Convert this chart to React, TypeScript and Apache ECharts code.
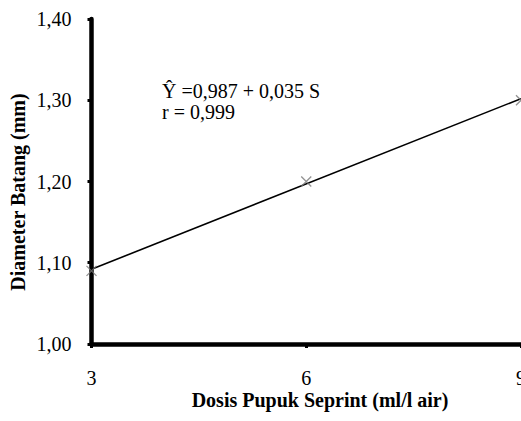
import React, { useEffect, useRef } from "react";
import * as echarts from "echarts";

const doses = [3, 6, 9];
const diameters = [1.09, 1.2, 1.3];
const trendX = [3, 9];
const trendY = [1.092, 1.302];
const yTicks = [1.0, 1.1, 1.2, 1.3, 1.4];
const equationText = "Ŷ =0,987 + 0,035 S";
const rText = "r = 0,999";
const xTitle = "Dosis Pupuk Seprint (ml/l air)";
const yTitle = "Diameter Batang (mm)";

const FONT = "'Liberation Serif', 'Times New Roman', serif";

export default function App() {
  const ref = useRef<HTMLDivElement>(null);
  useEffect(() => {
    if (!ref.current) return;
    const chart = echarts.init(ref.current, undefined, { renderer: "svg" });
    chart.setOption({
      animation: false,
      backgroundColor: "#ffffff",
      grid: {
        left: 91.5,
        top: 19,
        right: 0,
        bottom: 77,
        containLabel: false,
        outerBoundsMode: "none",
      },
      xAxis: {
        type: "value",
        min: 3,
        max: 9,
        interval: 3,
        splitLine: { show: false },
        axisLine: { show: true, onZero: false, lineStyle: { color: "#000", width: 4.5 } },
        axisTick: { show: true, length: 4, lineStyle: { color: "#000", width: 3 } },
        axisLabel: { fontFamily: FONT, fontSize: 20, color: "#000", margin: 24 },
      },
      yAxis: {
        type: "value",
        min: yTicks[0],
        max: yTicks[yTicks.length - 1],
        interval: 0.1,
        splitLine: { show: false },
        axisLine: { show: true, lineStyle: { color: "#000", width: 4.5 } },
        axisTick: { show: true, length: 4, lineStyle: { color: "#000", width: 3 } },
        axisLabel: {
          fontFamily: FONT,
          fontSize: 20,
          color: "#000",
          margin: 20,
          formatter: (v: number) => v.toFixed(2).replace(".", ","),
        },
      },
      series: [
        {
          type: "line",
          data: trendX.map((x, i) => [x, trendY[i]]),
          symbol: "none",
          lineStyle: { color: "#000", width: 1.6 },
          z: 2,
        },
        {
          type: "scatter",
          data: doses.map((x, i) => [x, diameters[i]]),
          symbol: "path://M0,0L10,10M10,0L0,10",
          symbolSize: 10,
          itemStyle: { color: "none", borderColor: "#777", borderWidth: 1.3 },
          z: 3,
        },
      ],
      graphic: [
        {
          type: "text",
          left: 162,
          top: 81,
          style: { text: equationText, fontFamily: FONT, fontSize: 20, fill: "#000" },
        },
        {
          type: "text",
          left: 162,
          top: 102,
          style: { text: rText, fontFamily: FONT, fontSize: 20, fill: "#000" },
        },
        {
          type: "text",
          x: 320,
          y: 400,
          style: {
            text: xTitle,
            fontFamily: FONT,
            fontSize: 20,
            fontWeight: "bold",
            fill: "#000",
            align: "center",
            verticalAlign: "middle",
          },
        },
        {
          type: "text",
          x: 18,
          y: 192,
          rotation: Math.PI / 2,
          style: {
            text: yTitle,
            fontFamily: FONT,
            fontSize: 20,
            fontWeight: "bold",
            fill: "#000",
            align: "center",
            verticalAlign: "middle",
          },
        },
      ],
    });
    return () => chart.dispose();
  }, []);
  return (
    <div
      ref={ref}
      style={{ position: "fixed", left: 0, top: 0, width: 521, height: 421, background: "#fff" }}
    />
  );
}
